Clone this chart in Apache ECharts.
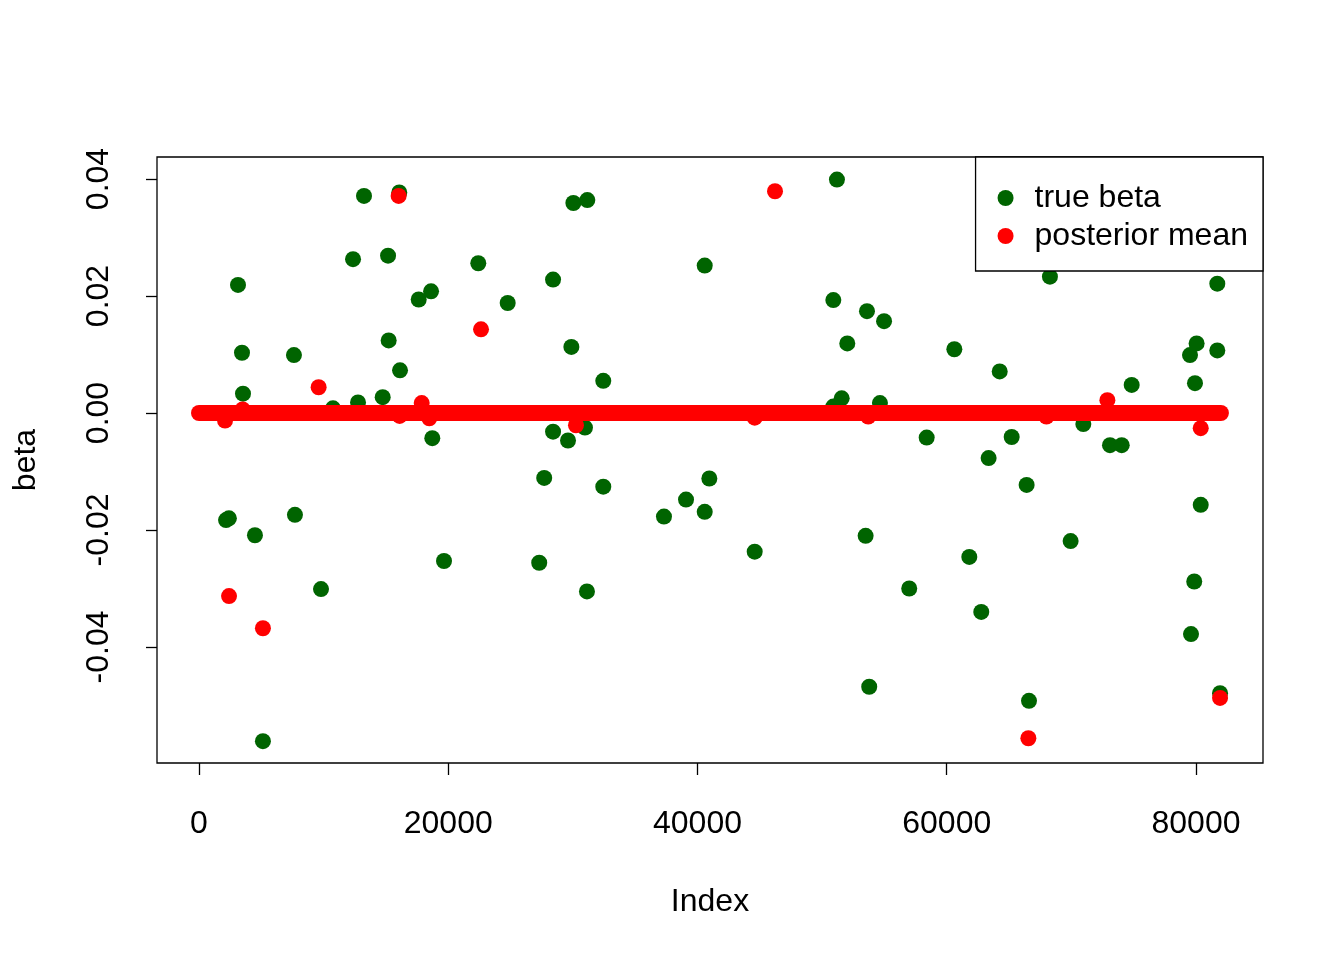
<!DOCTYPE html>
<html>
<head>
<meta charset="utf-8">
<script src="https://cdn.jsdelivr.net/npm/echarts@6/dist/echarts.min.js"></script>
<style>
  html, body { margin: 0; padding: 0; background: #fff; }
  #chart { width: 1344px; height: 960px; }
</style>
</head>
<body>
<div id="chart"></div>
<script>
// values: [index, beta]
const trueBeta = [
  [3130, 0.0219], [3450, 0.0103], [3530, 0.0033], [2170, -0.0183], [2400, -0.0180],
  [4490, -0.0209], [5130, -0.0561], [7620, 0.0099], [7700, -0.0174], [9790, -0.0301],
  [12360, 0.0263], [13240, 0.0371], [12760, 0.0018], [10750, 0.0008], [14740, 0.0027],
  [15170, 0.0269], [15220, 0.0124], [16070, 0.0377], [16130, 0.0073], [17630, 0.0194],
  [18620, 0.0208], [18720, -0.0043], [19660, -0.0253], [22410, 0.0256], [24770, 0.0188],
  [28410, 0.0228], [28410, -0.0032], [27700, -0.0111], [27300, -0.0256], [30040, 0.0359],
  [31160, 0.0364], [29880, 0.0113], [32440, 0.0055], [29610, -0.0047], [30970, -0.0025],
  [32440, -0.0126], [31130, -0.0305], [39080, -0.0148], [37310, -0.0177], [40950, -0.0112],
  [40580, -0.0169], [40580, 0.0252], [44590, -0.0237], [51190, 0.0399], [50900, 0.0193],
  [53600, 0.0174], [54970, 0.0157], [52020, 0.0119], [51570, 0.0025], [50900, 0.0011],
  [54640, 0.0017], [53490, -0.0210], [56990, -0.0300], [53780, -0.0468], [58390, -0.0042],
  [60610, 0.0109], [64250, 0.0071], [65210, -0.0041], [63360, -0.0077], [61810, -0.0246],
  [62770, -0.0340], [66410, -0.0123], [66600, -0.0492], [68280, 0.0233], [69940, -0.0219],
  [70960, -0.0019], [73100, -0.0055], [74040, -0.0055], [74840, 0.0048], [79520, 0.0099],
  [80050, 0.0119], [79920, 0.0051], [81710, 0.0221], [81710, 0.0107], [80380, -0.0157],
  [79860, -0.0288], [79600, -0.0378], [81930, -0.0479]
];

const posteriorMean = [
  [2410, -0.0313], [5130, -0.0368], [9600, 0.0044], [16020, 0.0371], [22630, 0.0143],
  [2090, -0.0013], [17870, 0.0017], [18480, -0.0009], [51060, 0.0443], [46220, 0.0379],
  [30250, -0.0021], [72890, 0.0022], [80380, -0.0026], [66550, -0.0556], [81930, -0.0487],
  [68000, -0.0006], [44590, -0.0008], [53700, -0.0006], [3500, 0.0006], [16100, -0.0005]
];

// the ~82000 posterior means that sit on zero form one solid band
const zeroBand = [[1, 0], [82000, 0]];

const xTicks = [0, 20000, 40000, 60000, 80000];
const yTicks = [-0.04, -0.02, 0, 0.02, 0.04];

const font = 'Liberation Sans';
const chart = echarts.init(document.getElementById('chart'));

const option = {
  backgroundColor: '#fff',
  animation: false,
  grid: {
    left: 157, right: 81, top: 157, bottom: 197,
    show: true, borderColor: '#000', borderWidth: 1.3, backgroundColor: 'transparent'
  },
  legend: {
    orient: 'vertical',
    right: 81,
    top: 157,
    padding: [25, 15, 19, 22],
    itemGap: 6,
    itemWidth: 16,
    itemHeight: 16,
    icon: 'circle',
    backgroundColor: '#fff',
    borderColor: '#000',
    borderWidth: 1.3,
    borderRadius: 0,
    textStyle: { fontFamily: font, fontSize: 32, color: '#000', padding: [0, 0, 0, 16] },
    data: ['true beta', 'posterior mean']
  },
  xAxis: {
    type: 'value',
    min: -3370,
    max: 85377,
    name: 'Index',
    nameLocation: 'middle',
    nameGap: 123,
    nameTextStyle: { fontFamily: font, fontSize: 32, color: '#000' },
    axisLine: { show: false, onZero: false },
    splitLine: { show: false },
    axisTick: { show: true, length: 12, customValues: xTicks, lineStyle: { color: '#000', width: 1.3 } },
    axisLabel: {
      customValues: xTicks, margin: 45, fontFamily: font, fontSize: 32, color: '#000',
      formatter: v => String(v)
    }
  },
  yAxis: {
    type: 'value',
    min: -0.05983,
    max: 0.04376,
    name: 'beta',
    nameLocation: 'middle',
    nameGap: 115,
    nameTextStyle: { fontFamily: font, fontSize: 32, color: '#000' },
    axisLine: { show: false, onZero: false },
    splitLine: { show: false },
    axisTick: { show: true, length: 11, customValues: yTicks, lineStyle: { color: '#000', width: 1.3 } },
    axisLabel: {
      customValues: yTicks, rotate: 90, margin: 42, fontFamily: font, fontSize: 32, color: '#000',
      formatter: v => v.toFixed(2)
    }
  },
  series: [
    {
      name: 'true beta',
      type: 'scatter',
      data: trueBeta,
      symbolSize: 16,
      itemStyle: { color: '#006400', opacity: 1 },
      z: 2
    },
    {
      name: 'posterior mean band',
      type: 'line',
      data: zeroBand,
      symbol: 'none',
      lineStyle: { color: '#ff0000', width: 16, cap: 'round' },
      z: 3
    },
    {
      name: 'posterior mean',
      type: 'scatter',
      data: posteriorMean,
      symbolSize: 16,
      itemStyle: { color: '#ff0000', opacity: 1 },
      z: 4
    }
  ]
};

chart.setOption(option);
</script>
</body>
</html>
